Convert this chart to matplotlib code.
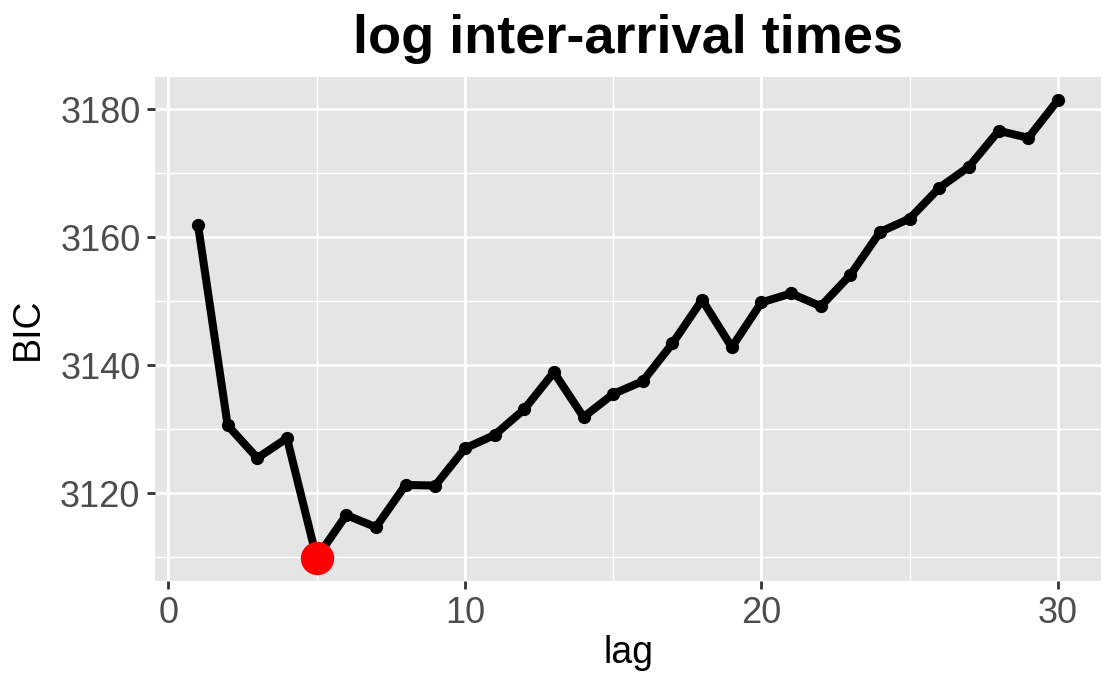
import matplotlib
matplotlib.use("Agg")
import matplotlib.pyplot as plt
from matplotlib.ticker import MultipleLocator

lag = list(range(1, 31))
bic = [3161.9, 3130.6, 3125.5, 3128.6, 3109.9, 3116.6, 3114.7, 3121.3, 3121.2, 3127.0,
       3129.1, 3133.1, 3138.9, 3131.9, 3135.5, 3137.5, 3143.4, 3150.2, 3142.8, 3149.8,
       3151.2, 3149.2, 3154.1, 3160.8, 3162.9, 3167.7, 3171.0, 3176.6, 3175.5, 3181.4]
best_lag = 5

plt.rcParams['font.family'] = ['Liberation Sans', 'DejaVu Sans']

fig = plt.figure(figsize=(11.16, 6.89), dpi=100)
ax = fig.add_axes([155/1116, 1 - 581/689, (1101 - 155)/1116, (581 - 77)/689])
ax.set_facecolor('#E5E5E5')

ax.plot(lag, bic, color='black', lw=5.8, solid_joinstyle='round', solid_capstyle='round', zorder=3)
ax.plot(lag, bic, 'o', color='black', ms=8.5, zorder=4)
i = lag.index(best_lag)
ax.plot([lag[i]], [bic[i]], 'o', color='#FF0000', ms=23, zorder=5)

ax.set_xlim(-0.45, 31.45)
ax.set_ylim(3106.3, 3185.0)
ax.xaxis.set_major_locator(MultipleLocator(10))
ax.xaxis.set_minor_locator(MultipleLocator(5))
ax.yaxis.set_major_locator(MultipleLocator(20))
ax.yaxis.set_minor_locator(MultipleLocator(10))
ax.grid(which='major', color='white', lw=2.0)
ax.grid(which='minor', color='white', lw=1.0)
ax.set_axisbelow(True)
for s in ax.spines.values():
    s.set_visible(False)
ax.tick_params(which='major', length=6, width=2.0, color='#333333', labelsize=26, labelcolor='#4D4D4D', pad=4.5)
ax.tick_params(which='minor', length=0)

ax.set_xlabel('lag', fontsize=27, labelpad=3)
ax.set_ylabel('BIC', fontsize=27, labelpad=10)
ax.set_title('log inter-arrival times', fontsize=39, fontweight='bold', pad=17)

fig.savefig('out.png', dpi=100)
